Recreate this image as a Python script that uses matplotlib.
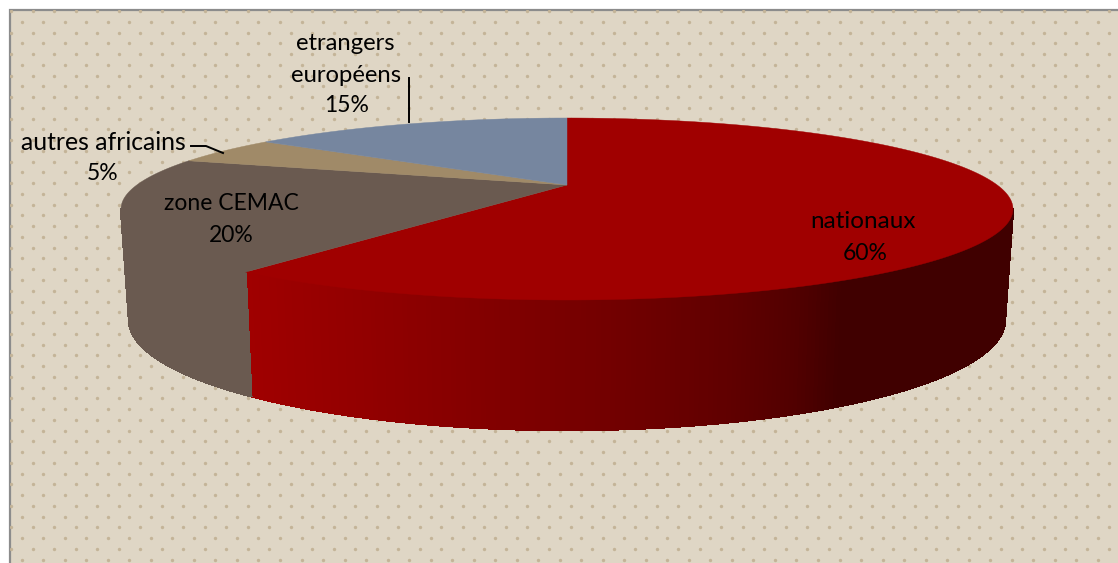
import numpy as np
import matplotlib
matplotlib.use('Agg')
import matplotlib.pyplot as plt
from matplotlib.collections import PolyCollection
from matplotlib.patches import Rectangle

# Data, clockwise from 12 o'clock
groups = ['nationaux', 'zone CEMAC', 'autres africains', 'etrangers européens']
shares = [60, 20, 5, 15]
top_colors = ['#a00000', '#6a5a50', '#a08a68', '#76869f']

plt.rcParams['font.family'] = ['Lato', 'DejaVu Sans']

fig = plt.figure(figsize=(11.18, 5.63), dpi=100)
ax = fig.add_axes([0, 0, 1, 1])
ax.set_xlim(0, 1118)
ax.set_ylim(563, 0)
ax.axis('off')

# Panel and its dot pattern
panel = Rectangle((10, 10), 1120, 570, facecolor='#dfd6c5', edgecolor='#8c8c8c', lw=1.6, zorder=1)
ax.add_patch(panel)
step = 21.52
dx, dy = [], []
for i in range(53):
    start = 11 if i % 2 == 0 else 21.76
    for x in np.arange(start, 1118, step):
        dx.append(x)
        dy.append(11 + i * step / 2)
dots = ax.scatter(dx, dy, s=6, color='#c4b498', linewidths=0, zorder=2)
dots.set_clip_path(panel)


# Perspective projection of a disc: theta in degrees, clockwise from the top
K = 0.2637
def project(theta, cy, a, b):
    t = np.radians(theta)
    u, v = np.sin(t), np.cos(t)
    w = 1 + K * v
    return 567 + a * u / w, cy - b * v / w


TOP = (185, 430.2, 84.67)
LOW = (291, 422.5, 102.4)

bounds = np.cumsum([0] + shares) * 3.6
right_edge = np.degrees(np.arccos(-K))
left_edge = 360 - right_edge


def red_side(x):
    return (np.interp(x, [250, 400, 630, 730, 800, 840], [160, 142, 112, 96, 80, 64]) / 255, 0, 0)


# Side wall, only the part facing the viewer
for s in range(len(shares)):
    lo = max(bounds[s], right_edge)
    hi = min(bounds[s + 1], left_edge)
    if hi <= lo:
        continue
    th = np.arange(lo, hi + 0.5, 0.5)
    th[-1] = hi
    xt, yt = project(th, *TOP)
    xb, yb = project(th, *LOW)
    quads = [[(xt[i], yt[i]), (xt[i + 1], yt[i + 1]), (xb[i + 1], yb[i + 1]), (xb[i], yb[i])]
             for i in range(len(th) - 1)]
    if s == 0:
        cols = [red_side((xt[i] + xb[i]) / 2) for i in range(len(th) - 1)]
    else:
        cols = '#6a5a50'
    ax.add_collection(PolyCollection(quads, facecolors=cols, edgecolors=cols, linewidths=1.0,
                                     antialiaseds=False, zorder=3))

# Top face
cx0, cy0 = project(0, *TOP)[0], TOP[0]
for s in range(len(shares)):
    th = np.linspace(bounds[s], bounds[s + 1], 200)
    x, y = project(th, *TOP)
    ax.fill(np.r_[cx0, x], np.r_[cy0, y], color=top_colors[s], lw=0.3, zorder=4)

# Leader lines
ax.plot([409, 409], [78, 122], color='black', lw=1.4, zorder=5)
ax.plot([191, 206, 223], [146, 146, 153], color='black', lw=1.4, zorder=5)

# Labels
ax.text(863, 222, groups[0], fontsize=17.5, ha='center', va='center', zorder=6)
ax.text(865, 253, f'{shares[0]}%', fontsize=16.5, ha='center', va='center', zorder=6)
ax.text(231, 204, groups[1], fontsize=16.5, ha='center', va='center', zorder=6)
ax.text(231, 235, f'{shares[1]}%', fontsize=16.5, ha='center', va='center', zorder=6)
ax.text(103, 142, groups[2], fontsize=17.8, ha='center', va='center', zorder=6)
ax.text(103, 173, f'{shares[2]}%', fontsize=16.5, ha='center', va='center', zorder=6)
ax.text(345, 43, 'etrangers', fontsize=17.2, ha='center', va='center', zorder=6)
ax.text(345.5, 75, 'européens', fontsize=17.2, ha='center', va='center', zorder=6)
ax.text(347, 106, f'{shares[3]}%', fontsize=16.5, ha='center', va='center', zorder=6)

fig.savefig('out.png', dpi=100)
